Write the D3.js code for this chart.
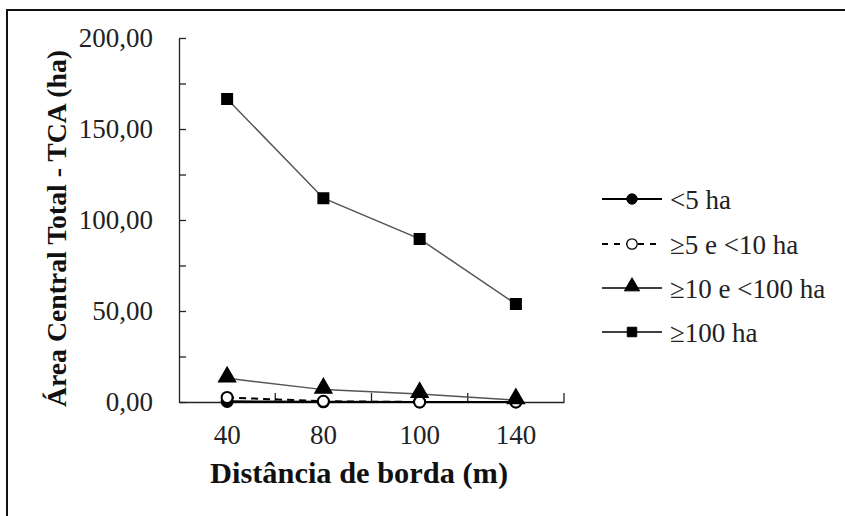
<!DOCTYPE html>
<html>
<head>
<meta charset="utf-8">
<script src="https://cdn.jsdelivr.net/npm/d3@7"></script>
<style>
  body { margin: 0; background: #fff; }
</style>
</head>
<body>
<div id="chart"></div>
<script>
// distances (categories on the x axis)
var categories = ["40", "80", "100", "140"];

// series names, as in the legend
var seriesNames = ["<5 ha", "≥5 e <10 ha", "≥10 e <100 ha", "≥100 ha"];

// values (ha)
var lessThan5 = [0.3, 0.1, 0.0, 0.0];
var from5to10 = [2.5, 0.4, 0.0, 0.0];
var from10to100 = [13.0, 6.8, 4.4, 1.0];
var over100 = [166.5, 112.0, 89.6, 53.8];

var yTicks = [0, 25, 50, 75, 100, 125, 150, 175, 200];
var yLabels = [0, 50, 100, 150, 200];

var W = 845, H = 516;
var margin = {top: 38, left: 179, right: 281, bottom: 114};
var FONT = "'Liberation Serif', 'Times New Roman', serif";

var svg = d3.select("#chart").append("svg")
    .attr("width", W).attr("height", H)
    .style("font-family", FONT);

svg.append("rect").attr("width", W).attr("height", H).attr("fill", "#fff");

// frame (only top and left edges fall inside the picture)
svg.append("rect")
    .attr("x", 7).attr("y", 10)
    .attr("width", W + 20).attr("height", H + 20)
    .attr("fill", "none").attr("stroke", "#111").attr("stroke-width", 2);

var x = d3.scaleBand().domain(categories)
    .range([margin.left, W - margin.right]).paddingInner(0).paddingOuter(0);
var y = d3.scaleLinear().domain([0, 200]).range([H - margin.bottom, margin.top]);

var fmt = function(v){ return d3.format(".2f")(v).replace(".", ","); };

// y axis: ticks inside, labels every 50
svg.append("g")
    .attr("transform", "translate(" + margin.left + ",0)")
    .call(d3.axisRight(y).tickValues(yTicks).tickSize(7).tickFormat("").tickSizeOuter(0))
    .call(function(g){ g.selectAll("path,line").attr("stroke", "#222").attr("stroke-width", 1.3); });

svg.append("g")
    .attr("transform", "translate(" + margin.left + ",0)")
    .call(d3.axisLeft(y).tickValues(yLabels).tickSize(0).tickPadding(26).tickFormat(fmt))
    .call(function(g){
      g.select(".domain").remove();
      g.selectAll("text").style("font-family", FONT).attr("font-size", 27).attr("fill", "#222");
    });

// x axis: labels under band centres, ticks at band edges pointing up
var y0 = y(0);
svg.append("g")
    .attr("transform", "translate(0," + y0 + ")")
    .call(d3.axisBottom(x).tickSize(0).tickPadding(23).tickSizeOuter(0))
    .call(function(g){
      g.select(".domain").attr("stroke", "#222").attr("stroke-width", 1.3);
      g.selectAll("text").style("font-family", FONT).attr("font-size", 27).attr("fill", "#222");
    });

var edges = categories.map(function(c){ return x(c) + x.bandwidth(); });
svg.append("g").selectAll("line").data(edges).enter().append("line")
    .attr("x1", function(d){ return d; }).attr("x2", function(d){ return d; })
    .attr("y1", y0).attr("y2", y0 - 9)
    .attr("stroke", "#222").attr("stroke-width", 1.3);

// axis titles
svg.append("text")
    .attr("x", 210)
    .attr("y", 483)
    .attr("textLength", 298).attr("lengthAdjust", "spacingAndGlyphs")
    .attr("font-size", 30).attr("font-weight", "bold").attr("fill", "#111")
    .text("Distância de borda (m)");

svg.append("text")
    .attr("transform", "translate(66,407) rotate(-90)")
    .attr("textLength", 357).attr("lengthAdjust", "spacingAndGlyphs")
    .attr("font-size", 28).attr("font-weight", "bold").attr("fill", "#111")
    .text("Área Central Total - TCA (ha)");

// series styles
var series = [
  {name: seriesNames[0], values: lessThan5, stroke: "#000", width: 2.2, dash: null, marker: "circle", fill: "#000"},
  {name: seriesNames[1], values: from5to10, stroke: "#000", width: 2, dash: "7,5", marker: "circle", fill: "#fff"},
  {name: seriesNames[2], values: from10to100, stroke: "#555", width: 1.5, dash: null, marker: "triangle", fill: "#000"},
  {name: seriesNames[3], values: over100, stroke: "#555", width: 1.5, dash: null, marker: "square", fill: "#000"}
];

var symbolSize = {circle: 95, triangle: 110, square: 100};
var symbolType = {circle: d3.symbolCircle, triangle: d3.symbolTriangle, square: d3.symbolSquare};

var line = d3.line()
    .x(function(d, i){ return x(categories[i]) + x.bandwidth() / 2; })
    .y(function(d){ return y(d); });

var plot = svg.append("g");
series.forEach(function(s){
  plot.append("path")
      .attr("d", line(s.values))
      .attr("fill", "none").attr("stroke", s.stroke)
      .attr("stroke-width", s.width)
      .attr("stroke-dasharray", s.dash);
});
series.forEach(function(s){
  plot.selectAll(null).data(s.values).enter().append("path")
      .attr("transform", function(d, i){
        var dy = s.marker === "triangle" ? -1.5 : 0;
        return "translate(" + (x(categories[i]) + x.bandwidth() / 2) + "," + (y(d) + dy) + ")";
      })
      .attr("d", d3.symbol().type(symbolType[s.marker]).size(symbolSize[s.marker]))
      .attr("fill", s.fill).attr("stroke", "#000").attr("stroke-width", 2);
});

// legend
var legend = svg.append("g").attr("transform", "translate(602,0)");
var rowY = [199, 244, 288, 332];
var legendStroke = [2.2, 2, 1.3, 1.3];
series.forEach(function(s, i){
  var r = legend.append("g").attr("transform", "translate(0," + rowY[i] + ")");
  r.append("line").attr("x1", 0).attr("x2", 60)
      .attr("stroke", "#000").attr("stroke-width", legendStroke[i])
      .attr("stroke-dasharray", s.dash ? "6,6" : null);
  r.append("path").attr("transform", "translate(30," + (s.marker === "triangle" ? -1.5 : 0) + ")")
      .attr("d", d3.symbol().type(symbolType[s.marker]).size(symbolSize[s.marker] * 0.9))
      .attr("fill", s.fill).attr("stroke", "#000").attr("stroke-width", s.fill === "#fff" ? 1.3 : 1);
  r.append("text").attr("x", 68).attr("y", 10)
      .attr("font-size", 27).attr("fill", "#222")
      .text(s.name);
});
</script>
</body>
</html>
